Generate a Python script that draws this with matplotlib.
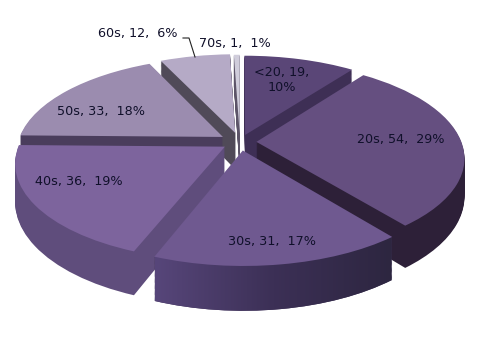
import matplotlib
matplotlib.use('Agg')
import matplotlib.pyplot as plt
import numpy as np
from matplotlib.path import Path
from matplotlib.colors import LinearSegmentedColormap
from matplotlib.transforms import Transform

# Data
categories = ['<20', '20s', '30s', '40s', '50s', '60s', '70s']
counts = [19, 54, 31, 36, 33, 12, 1]
labels = ['<20, 19,\n10%', '20s, 54,  29%', '30s, 31,  17%', '40s, 36,  19%',
          '50s, 33,  18%', '60s, 12,  6%', '70s, 1,  1%']
label_x = [282, 401, 272, 79, 101, 138, 235]
label_y = [80, 140, 242, 181, 111, 33, 44]

top_colors = ['#5a4677', '#654f80', '#6f5990', '#7d649d', '#9b8caf', '#b5aac6', '#d0cddb']
wall_colors = ['#3e2f55', '#2d2038', '#3d3055', '#5f4d7c', '#4a3d5c', '#504a58', '#5c5468']
# back to front, so nearer slices paint over further ones
draw_order = [6, 5, 0, 4, 1, 3, 2]

explode = [0.08, 0.08, 0.09, 0.088, 0.10, 0.10, 0.09]
depth = 37
cx, cy = 240.0, 142.0
scale_x, scale_y, persp = 205.0, 94.0, 0.16


class Tilt(Transform):
    input_dims = 2
    output_dims = 2

    def __init__(self, z):
        super().__init__()
        self.z = z

    def transform_non_affine(self, values):
        values = np.asarray(values)
        x, y = values[:, 0], values[:, 1]
        w = 1 + persp * y
        return np.column_stack([cx + scale_x * x / w, cy - scale_y * y / w + self.z / w])


fig = plt.figure(figsize=(4.8, 3.6), dpi=100)
ax = fig.add_axes([0, 0, 1, 1])

front_paths = []
for z in np.arange(depth, -0.5, -1.0):
    colors = top_colors if z == 0 else wall_colors
    wedges, _ = ax.pie(counts, explode=explode, startangle=90, counterclock=False,
                       colors=colors, wedgeprops={'linewidth': 0})
    for i, wedge in enumerate(wedges):
        wedge.set_transform(Tilt(z) + ax.transData)
        wedge.set_zorder(draw_order.index(i) * 100 + depth - z)
        wedge.set_clip_on(False)
    if z > 0:
        front_paths.append(Tilt(z).transform_path(wedges[2].get_path()))

ax.set_aspect('auto')

# rim of the front slice fades from left to right
fade = LinearSegmentedColormap.from_list('fade', ['#57467a', '#3c3056', '#2d2640'])
rim = ax.imshow(np.linspace(0, 1, 256).reshape(1, -1), cmap=fade, aspect='auto',
                extent=(155, 392, 320, 230), zorder=draw_order.index(2) * 100 + depth - 0.5)
rim.set_clip_path(Path.make_compound_path(*front_paths), transform=ax.transData)

ax.set_xlim(0, 480)
ax.set_ylim(360, 0)
ax.axis('off')

for text, x, y in zip(labels, label_x, label_y):
    ax.text(x, y, text, ha='center', va='center', fontsize=9.2, color='#10102a',
            zorder=2000, linespacing=1.15)
ax.plot([183, 189, 195], [38, 38, 57], color='#222222', lw=0.8, zorder=2000)

fig.savefig('out.png', dpi=100)
